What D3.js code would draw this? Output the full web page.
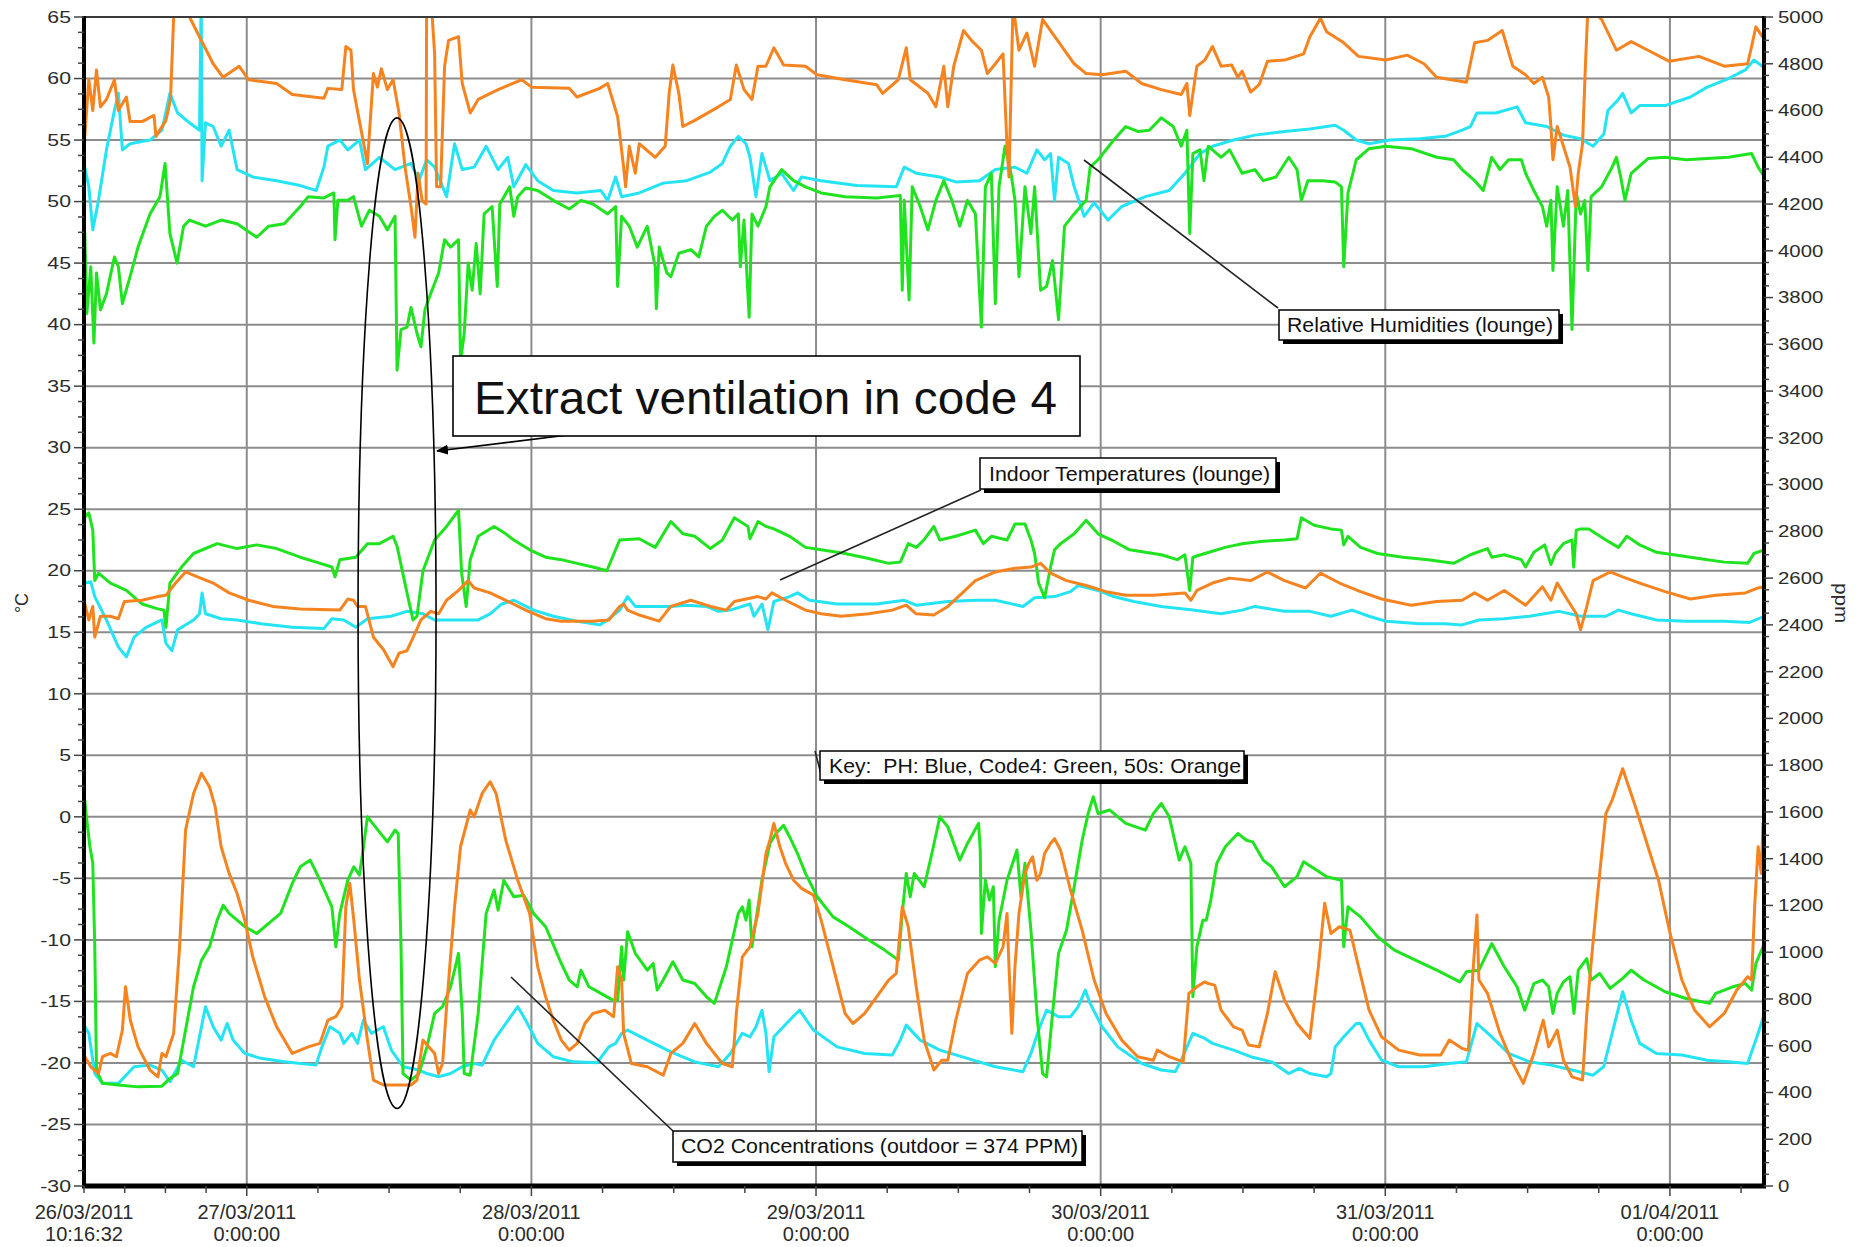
<!DOCTYPE html>
<html>
<head>
<meta charset="utf-8">
<script src="https://cdn.jsdelivr.net/npm/d3@7"></script>
<style>
  html, body { margin: 0; padding: 0; background: #fff; }
  svg { display: block; font-family: "Liberation Sans", Arial, Helvetica, sans-serif; }
  text { white-space: pre; }
</style>
</head>
<body>
<svg id="chart" width="1863" height="1247"></svg>
<script>
// ---------------------------------------------------------------------------
// Lounge monitoring, 26/03/2011 10:16:32 -> 01/04/2011 ~08:00
// Each point is [days since 26/03/2011 00:00, value].
// RH and temperature use the left axis, CO2 (ppm) uses the right axis.
// ---------------------------------------------------------------------------

const seriesNames = ["PH", "Code4", "50s"];
const seriesColors = ["#24e4f4", "#1fe31f", "#f5831f"];

// Relative humidity (%)
const rhPH = [[.431,52.8],[.445,51.2],[.459,47.7],[.479,50.1],[.507,54.2],[.535,57.4],[.549,58.8],[.563,54.2],[.590,54.7],[.660,55.0],[.702,55.8],[.730,58.8],[.757,57.2],[.799,56.4],[.834,55.8],[.840,67],[.843,51.7],[.855,56.4],[.882,56.1],[.910,54.5],[.938,55.8],[.966,52.6],[1.021,52.0],[1.105,51.7],[1.188,51.3],[1.244,50.9],[1.271,52.8],[1.285,54.5],[1.327,55.0],[1.355,54.2],[1.396,55.0],[1.417,52.6],[1.466,53.6],[1.521,52.6],[1.577,53.1],[1.605,51.7],[1.632,53.4],[1.660,52.8],[1.702,50.4],[1.730,54.7],[1.757,52.6],[1.799,52.8],[1.841,54.5],[1.883,52.6],[1.917,53.6],[1.938,51.2],[1.980,53.0],[2.022,51.7],[2.077,50.9],[2.160,50.7],[2.244,50.9],[2.268,50.1],[2.296,52.0],[2.317,50.4],[2.379,50.7],[2.463,51.5],[2.546,51.7],[2.629,52.4],[2.671,53.1],[2.699,54.5],[2.727,55.3],[2.754,54.7],[2.768,53.6],[2.789,50.4],[2.810,53.9],[2.838,51.7],[2.879,52.3],[2.921,50.9],[2.949,52.0],[3.018,51.7],[3.143,51.3],[3.282,51.2],[3.310,52.8],[3.352,52.3],[3.435,52.0],[3.491,51.6],[3.574,51.7],[3.630,52.6],[3.699,52.8],[3.741,52.3],[3.776,54.2],[3.803,53.4],[3.824,53.9],[3.838,50.1],[3.852,53.6],[3.887,53.1],[3.907,51.2],[3.942,48.8],[3.977,49.9],[4.026,48.5],[4.074,49.6],[4.157,50.4],[4.241,50.9],[4.296,52.3],[4.349,53.9],[4.393,54.5],[4.467,55.0],[4.542,55.4],[4.646,55.7],[4.735,55.9],[4.824,56.2],[4.854,55.8],[4.898,55.0],[4.943,54.7],[5.017,55.0],[5.121,55.1],[5.210,55.3],[5.270,55.8],[5.299,56.1],[5.322,57.2],[5.389,57.2],[5.463,57.7],[5.493,56.4],[5.567,56.1],[5.626,55.4],[5.686,55.1],[5.730,54.5],[5.768,55.5],[5.782,57.4],[5.819,58.3],[5.834,58.8],[5.864,57.2],[5.894,57.8],[5.983,57.8],[6.072,58.5],[6.131,59.3],[6.206,60.0],[6.265,60.7],[6.295,61.5],[6.325,61.0]];

const rhCode4 = [[.431,47.4],[.438,40.9],[.452,44.7],[.463,38.5],[.472,44.2],[.486,41.2],[.507,42.5],[.535,45.5],[.549,44.7],[.563,41.7],[.590,43.9],[.618,46.3],[.660,49.0],[.695,50.4],[.713,53.1],[.730,47.4],[.755,45.0],[.778,48.0],[.799,48.5],[.855,48.0],[.910,48.5],[.966,48.2],[1.035,47.1],[1.077,48.0],[1.132,48.2],[1.188,49.6],[1.216,50.4],[1.271,50.3],[1.306,50.7],[1.310,46.9],[1.320,50.1],[1.355,50.1],[1.375,50.4],[1.403,48.0],[1.431,49.3],[1.466,48.8],[1.494,47.7],[1.521,48.8],[1.528,36.3],[1.542,39.6],[1.563,39.8],[1.577,41.4],[1.598,39.3],[1.612,38.2],[1.626,41.2],[1.646,42.5],[1.674,44.2],[1.695,46.9],[1.716,46.3],[1.744,46.9],[1.751,37.0],[1.764,39.3],[1.778,45.0],[1.792,42.8],[1.806,46.6],[1.820,42.5],[1.834,49.0],[1.862,49.6],[1.880,43.1],[1.889,49.8],[1.924,51.2],[1.938,48.8],[1.952,50.4],[1.980,51.1],[2.022,50.9],[2.077,50.1],[2.133,49.4],[2.174,50.1],[2.216,49.8],[2.268,49.0],[2.296,49.6],[2.303,43.1],[2.317,48.8],[2.344,48.0],[2.372,46.3],[2.407,48.0],[2.435,44.7],[2.439,41.3],[2.449,46.3],[2.476,44.2],[2.490,43.9],[2.518,45.8],[2.560,46.1],[2.588,45.5],[2.615,48.0],[2.643,48.8],[2.671,49.3],[2.706,48.5],[2.727,49.0],[2.734,44.7],[2.747,48.5],[2.765,40.6],[2.775,49.0],[2.796,48.0],[2.824,49.6],[2.838,51.2],[2.879,52.6],[2.921,51.7],[2.963,51.2],[3.018,50.7],[3.102,50.4],[3.213,50.3],[3.296,50.5],[3.303,42.8],[3.310,50.1],[3.327,42.0],[3.338,51.2],[3.366,49.6],[3.393,47.7],[3.421,50.1],[3.449,51.7],[3.477,50.1],[3.505,48.0],[3.532,50.1],[3.560,49.0],[3.581,39.8],[3.595,51.2],[3.616,52.3],[3.630,41.7],[3.643,51.2],[3.664,54.5],[3.685,52.3],[3.699,50.1],[3.713,43.9],[3.734,51.2],[3.755,47.4],[3.768,51.2],[3.789,42.8],[3.810,43.1],[3.831,45.2],[3.852,40.4],[3.873,48.0],[3.907,49.0],[3.949,50.1],[3.963,52.8],[3.991,53.4],[4.046,55.0],[4.088,56.1],[4.130,55.7],[4.171,55.8],[4.213,56.8],[4.255,56.1],[4.283,54.5],[4.303,55.8],[4.313,47.4],[4.324,53.9],[4.349,54.2],[4.363,51.7],[4.378,54.5],[4.423,53.6],[4.453,54.2],[4.497,52.3],[4.542,52.6],[4.571,51.7],[4.616,52.0],[4.661,53.6],[4.690,52.6],[4.705,50.1],[4.728,51.7],[4.779,51.7],[4.824,51.6],[4.846,51.2],[4.854,44.7],[4.869,50.7],[4.898,53.4],[4.943,54.3],[5.002,54.5],[5.091,54.3],[5.181,53.6],[5.240,53.4],[5.270,52.6],[5.314,51.7],[5.344,50.9],[5.374,53.6],[5.403,52.6],[5.433,53.4],[5.478,53.4],[5.493,52.3],[5.522,50.9],[5.552,49.6],[5.567,48.0],[5.582,50.1],[5.589,44.4],[5.604,51.2],[5.626,48.0],[5.641,50.9],[5.656,39.6],[5.671,50.7],[5.686,49.0],[5.701,50.1],[5.712,44.4],[5.723,50.4],[5.760,51.2],[5.797,52.8],[5.812,53.6],[5.827,52.0],[5.842,50.1],[5.864,52.3],[5.923,53.5],[5.983,53.6],[6.057,53.4],[6.131,53.5],[6.206,53.6],[6.287,53.9],[6.310,52.8],[6.332,52.0]];

const rh50s = [[.431,55.3],[.445,59.9],[.459,57.4],[.472,60.7],[.486,57.7],[.507,58.3],[.535,59.9],[.549,57.4],[.577,58.5],[.590,56.5],[.632,56.5],[.674,57.0],[.681,55.3],[.716,56.6],[.732,58.3],[.743,64.9],[.753,67],[.780,67],[.799,65],[.827,63.7],[.882,61.2],[.917,60.1],[.973,61.0],[1.007,59.9],[1.105,59.6],[1.160,58.7],[1.271,58.4],[1.285,59.2],[1.334,59.1],[1.348,62.6],[1.366,62.3],[1.375,59.1],[1.424,53.1],[1.445,60.4],[1.459,59.3],[1.473,60.8],[1.494,59.1],[1.514,59.9],[1.535,57.2],[1.556,52.8],[1.577,49.6],[1.591,47.1],[1.602,52.3],[1.616,50.1],[1.630,49.8],[1.632,67],[1.646,67],[1.660,62.0],[1.667,51.2],[1.681,51.2],[1.695,61.0],[1.709,63.1],[1.744,63.4],[1.757,59.6],[1.785,57.2],[1.813,58.3],[1.883,59.1],[1.966,59.9],[2.001,59.3],[2.133,59.2],[2.160,58.5],[2.240,59.2],[2.268,59.6],[2.303,56.9],[2.324,52.8],[2.331,51.2],[2.344,54.5],[2.365,52.3],[2.379,54.7],[2.435,53.6],[2.470,54.5],[2.484,58.8],[2.497,61.1],[2.518,58.8],[2.532,56.1],[2.574,56.6],[2.657,57.7],[2.699,58.3],[2.720,61.1],[2.747,59.1],[2.775,58.3],[2.796,61.0],[2.824,61.0],[2.852,62.5],[2.886,61.1],[2.963,61.0],[3.004,60.3],[3.102,59.9],[3.213,59.5],[3.234,58.8],[3.289,59.9],[3.317,62.5],[3.331,59.9],[3.393,58.8],[3.421,57.7],[3.449,61.0],[3.463,57.7],[3.484,61.0],[3.518,63.9],[3.546,63.1],[3.581,62.3],[3.602,60.4],[3.630,61.2],[3.657,62.0],[3.671,54.5],[3.678,52.0],[3.692,66],[3.713,62.3],[3.741,63.7],[3.768,61.0],[3.796,64.8],[3.824,63.9],[3.907,61.2],[3.949,60.4],[4.005,60.3],[4.088,60.6],[4.144,59.6],[4.213,59.1],[4.283,58.7],[4.303,59.6],[4.313,57.0],[4.338,61.0],[4.366,61.5],[4.393,62.6],[4.423,61.0],[4.460,61.1],[4.482,60.1],[4.497,60.6],[4.527,58.9],[4.557,59.5],[4.586,61.4],[4.646,61.5],[4.713,62.0],[4.735,63.4],[4.772,64.9],[4.794,63.8],[4.854,62.9],[4.906,61.8],[5.002,61.5],[5.077,61.9],[5.136,61.2],[5.180,60.1],[5.285,59.7],[5.314,62.9],[5.359,63.1],[5.411,63.9],[5.448,61.0],[5.493,60.3],[5.522,59.6],[5.552,60.1],[5.574,58.5],[5.582,56.1],[5.589,53.4],[5.604,56.1],[5.626,54.5],[5.649,52.8],[5.668,49.6],[5.678,52.3],[5.693,54.7],[5.703,61.0],[5.712,65.8],[5.738,65.3],[5.760,64.8],[5.812,62.3],[5.864,63.0],[5.923,62.3],[5.998,61.4],[6.102,61.8],[6.191,61.0],[6.273,61.2],[6.287,62.6],[6.302,64.2],[6.325,63.4]];

// Indoor temperature (°C)
const tPH = [[.431,19.0],[.452,19.1],[.466,17.9],[.507,16.0],[.549,13.8],[.577,13.0],[.604,14.6],[.646,15.4],[.702,16.0],[.716,14.1],[.737,13.5],[.757,15.2],[.813,16.0],[.834,16.5],[.843,18.2],[.855,16.5],[.910,16.1],[.966,16.0],[1.049,15.7],[1.160,15.4],[1.271,15.3],[1.299,16.1],[1.341,16.0],[1.383,15.4],[1.424,16.1],[1.507,16.3],[1.563,16.7],[1.619,16.5],[1.660,16.0],[1.716,16.0],[1.813,16.0],[1.855,16.5],[1.896,17.3],[1.938,17.6],[2.008,16.8],[2.077,16.3],[2.160,15.9],[2.240,15.6],[2.268,16.0],[2.310,16.8],[2.338,17.9],[2.365,17.1],[2.421,17.1],[2.490,17.1],[2.546,17.2],[2.615,17.1],[2.657,16.7],[2.699,16.8],[2.768,17.3],[2.782,16.3],[2.810,17.3],[2.831,15.2],[2.852,17.5],[2.907,17.9],[2.935,18.2],[2.977,17.6],[3.074,17.3],[3.213,17.3],[3.310,17.6],[3.352,17.2],[3.463,17.5],[3.560,17.6],[3.630,17.6],[3.727,17.1],[3.768,17.8],[3.838,17.9],[3.894,18.3],[3.921,18.8],[3.991,18.4],[4.046,17.9],[4.116,17.5],[4.213,17.1],[4.324,16.8],[4.423,16.5],[4.497,16.8],[4.542,17.1],[4.646,16.7],[4.735,16.7],[4.809,16.3],[4.883,16.8],[4.943,16.3],[5.002,15.9],[5.121,15.7],[5.210,15.7],[5.270,15.6],[5.329,16.0],[5.418,16.1],[5.507,16.3],[5.611,16.7],[5.686,16.3],[5.775,16.3],[5.819,16.8],[5.864,16.5],[5.953,16.0],[6.057,15.9],[6.191,15.9],[6.280,15.8],[6.332,16.3]];

const tCode4 = [[.431,24.4],[.445,24.7],[.459,23.3],[.466,19.2],[.479,19.8],[.521,19.0],[.577,18.4],[.632,17.3],[.688,16.9],[.709,16.8],[.716,15.4],[.730,19.0],[.771,20.3],[.813,21.4],[.896,22.2],[.966,21.8],[1.035,22.1],[1.105,21.8],[1.188,21.1],[1.244,20.7],[1.299,20.3],[1.310,19.5],[1.327,20.9],[1.383,21.1],[1.424,22.2],[1.466,22.2],[1.514,22.8],[1.528,22.0],[1.563,18.2],[1.584,16.0],[1.598,16.3],[1.619,20.0],[1.660,22.5],[1.702,23.6],[1.744,24.9],[1.755,19.8],[1.771,17.1],[1.785,20.9],[1.813,22.8],[1.869,23.6],[1.910,23.0],[1.938,22.5],[1.994,21.7],[2.050,21.1],[2.105,20.9],[2.160,20.6],[2.216,20.3],[2.265,20.0],[2.310,22.5],[2.379,22.6],[2.435,21.9],[2.490,24.0],[2.532,23.0],[2.574,22.8],[2.629,21.8],[2.671,22.5],[2.713,24.3],[2.761,23.6],[2.768,22.6],[2.796,24.0],[2.824,23.6],[2.852,23.4],[2.907,22.8],[2.963,21.9],[3.018,21.7],[3.102,21.4],[3.185,21.0],[3.255,20.6],[3.296,20.7],[3.324,22.2],[3.352,21.9],[3.379,22.5],[3.414,23.6],[3.435,22.5],[3.491,22.8],[3.560,23.3],[3.588,22.2],[3.616,22.8],[3.671,22.5],[3.699,23.8],[3.734,23.8],[3.755,22.5],[3.768,21.4],[3.782,19.0],[3.803,17.8],[3.824,20.3],[3.838,21.7],[3.859,22.2],[3.907,23.0],[3.949,24.1],[3.991,23.0],[4.046,22.4],[4.102,21.7],[4.157,21.5],[4.213,21.3],[4.269,20.9],[4.296,21.3],[4.313,18.4],[4.324,21.1],[4.366,21.4],[4.438,21.9],[4.497,22.2],[4.571,22.4],[4.646,22.5],[4.690,22.6],[4.705,24.3],[4.750,23.7],[4.809,23.4],[4.846,23.3],[4.854,22.1],[4.869,22.8],[4.913,21.9],[4.973,21.4],[5.062,21.1],[5.151,20.9],[5.240,20.6],[5.299,21.3],[5.359,21.8],[5.374,21.1],[5.418,21.3],[5.478,20.9],[5.493,20.3],[5.522,21.5],[5.560,22.1],[5.582,20.5],[5.597,21.4],[5.626,22.2],[5.656,22.5],[5.662,20.3],[5.671,23.3],[5.686,23.4],[5.715,23.4],[5.775,22.5],[5.819,21.9],[5.849,22.8],[5.894,22.1],[5.953,21.5],[6.013,21.3],[6.102,21.0],[6.191,20.7],[6.273,20.6],[6.295,21.4],[6.332,21.7]];

const t50s = [[.431,17.3],[.445,16.0],[.459,17.1],[.466,14.6],[.486,16.3],[.521,16.3],[.549,16.1],[.570,17.5],[.632,17.6],[.688,17.9],[.716,18.0],[.750,19.0],[.785,19.9],[.827,19.5],[.882,19.0],[.938,18.2],[1.007,17.6],[1.091,17.1],[1.188,16.9],[1.327,16.8],[1.355,17.7],[1.375,17.6],[1.389,17.1],[1.417,17.1],[1.445,14.6],[1.480,13.6],[1.514,12.2],[1.535,13.3],[1.563,13.5],[1.591,14.9],[1.612,16.0],[1.646,16.7],[1.674,16.5],[1.702,17.6],[1.744,18.4],[1.778,19.2],[1.799,18.6],[1.855,18.2],[1.910,17.6],[1.980,16.8],[2.050,16.1],[2.105,15.9],[2.216,15.9],[2.272,16.0],[2.310,17.1],[2.324,17.3],[2.338,16.8],[2.379,16.4],[2.449,15.9],[2.490,17.1],[2.560,17.6],[2.629,17.1],[2.685,16.8],[2.713,17.5],[2.796,17.9],[2.824,17.7],[2.845,18.2],[2.893,17.6],[2.963,16.8],[3.018,16.5],[3.088,16.3],[3.185,16.5],[3.268,16.8],[3.317,17.2],[3.352,16.5],[3.414,16.4],[3.463,17.1],[3.505,18.0],[3.560,19.2],[3.630,19.9],[3.699,20.2],[3.755,20.3],[3.789,20.6],[3.824,19.8],[3.880,19.2],[3.949,18.8],[4.019,18.3],[4.088,18.0],[4.185,18.0],[4.296,18.2],[4.317,17.6],[4.338,18.4],[4.393,19.0],[4.453,19.4],[4.527,19.2],[4.586,19.9],[4.646,19.2],[4.720,18.6],[4.772,19.8],[4.839,19.0],[4.913,18.3],[4.987,17.7],[5.091,17.2],[5.181,17.5],[5.270,17.6],[5.314,18.2],[5.359,17.6],[5.418,18.4],[5.493,17.2],[5.552,18.7],[5.582,17.6],[5.604,19.0],[5.641,17.6],[5.671,16.5],[5.686,15.2],[5.708,17.1],[5.730,19.2],[5.790,19.9],[5.834,19.5],[5.894,19.0],[5.983,18.3],[6.072,17.7],[6.161,18.0],[6.265,18.2],[6.310,18.6],[6.332,18.7]];

// CO2 concentration (ppm)
const co2PH = [[.431,681],[.445,653],[.466,481],[.493,439],[.549,439],[.604,510],[.660,517],[.702,496],[.730,446],[.771,538],[.813,510],[.855,767],[.882,681],[.910,624],[.931,695],[.952,624],[.993,567],[1.049,546],[1.132,531],[1.243,517],[1.264,595],[1.292,681],[1.327,653],[1.341,610],[1.369,653],[1.389,610],[1.410,709],[1.438,653],[1.480,681],[1.508,581],[1.549,510],[1.605,496],[1.633,481],[1.674,467],[1.716,481],[1.757,510],[1.799,524],[1.827,517],[1.869,624],[1.910,695],[1.952,767],[1.980,709],[2.022,610],[2.077,553],[2.147,531],[2.230,527],[2.272,595],[2.296,610],[2.317,653],[2.338,667],[2.407,624],[2.490,574],[2.574,531],[2.657,510],[2.699,567],[2.741,653],[2.768,638],[2.789,681],[2.810,752],[2.824,653],[2.835,489],[2.852,638],[2.907,709],[2.942,752],[2.991,667],[3.074,595],[3.171,567],[3.268,560],[3.296,624],[3.317,688],[3.366,624],[3.435,581],[3.532,546],[3.630,510],[3.727,489],[3.755,567],[3.782,667],[3.810,752],[3.852,724],[3.894,724],[3.921,767],[3.946,838],[3.963,781],[4.005,681],[4.060,595],[4.144,524],[4.213,496],[4.262,489],[4.283,538],[4.324,653],[4.366,631],[4.393,610],[4.467,581],[4.527,553],[4.601,531],[4.660,481],[4.698,503],[4.735,481],[4.794,467],[4.809,481],[4.824,595],[4.854,638],[4.898,695],[4.913,695],[4.943,624],[4.987,538],[5.047,510],[5.136,510],[5.225,524],[5.285,531],[5.322,695],[5.374,638],[5.433,567],[5.507,531],[5.582,517],[5.656,496],[5.730,474],[5.767,510],[5.797,653],[5.834,831],[5.864,709],[5.894,610],[5.953,567],[6.042,560],[6.131,538],[6.206,531],[6.273,524],[6.310,653],[6.332,738]];

const co2Code4 = [[.431,1650],[.438,1565],[.449,1451],[.459,1380],[.466,1023],[.472,496],[.493,439],[.549,432],[.618,424],[.702,427],[.730,460],[.757,481],[.785,667],[.813,852],[.841,966],[.869,1023],[.896,1137],[.917,1201],[.938,1166],[.993,1109],[1.035,1080],[1.077,1123],[1.119,1166],[1.160,1294],[1.188,1365],[1.223,1394],[1.257,1308],[1.299,1194],[1.313,1023],[1.327,1166],[1.355,1308],[1.376,1365],[1.396,1330],[1.410,1451],[1.424,1579],[1.452,1536],[1.494,1472],[1.521,1522],[1.532,1508],[1.542,1023],[1.549,481],[1.577,453],[1.605,481],[1.633,595],[1.660,738],[1.688,767],[1.716,852],[1.744,995],[1.757,738],[1.764,481],[1.785,474],[1.813,738],[1.841,1166],[1.869,1266],[1.883,1180],[1.903,1308],[1.938,1237],[1.973,1244],[2.008,1166],[2.050,1109],[2.105,952],[2.133,881],[2.161,852],[2.174,923],[2.202,852],[2.244,824],[2.286,795],[2.303,795],[2.317,1023],[2.324,881],[2.338,1087],[2.365,995],[2.407,923],[2.428,952],[2.442,838],[2.463,881],[2.497,959],[2.532,881],[2.574,866],[2.615,809],[2.643,781],[2.685,938],[2.727,1166],[2.741,1194],[2.754,1137],[2.765,1223],[2.775,1023],[2.789,1137],[2.810,1308],[2.838,1465],[2.859,1508],[2.886,1543],[2.907,1494],[2.935,1422],[2.963,1337],[3.004,1237],[3.060,1151],[3.116,1109],[3.185,1052],[3.241,1009],[3.289,966],[3.303,1166],[3.317,1337],[3.331,1237],[3.345,1337],[3.380,1280],[3.407,1422],[3.435,1579],[3.463,1536],[3.505,1394],[3.532,1465],[3.571,1551],[3.577,1437],[3.581,1080],[3.595,1308],[3.609,1223],[3.623,1280],[3.630,938],[3.643,1137],[3.671,1308],[3.706,1437],[3.720,1237],[3.734,1380],[3.755,1094],[3.776,738],[3.796,481],[3.810,467],[3.831,738],[3.852,995],[3.880,1094],[3.907,1280],[3.935,1479],[3.956,1593],[3.974,1665],[3.991,1593],[4.032,1608],[4.088,1551],[4.157,1522],[4.185,1593],[4.213,1636],[4.241,1579],[4.276,1394],[4.296,1451],[4.317,1380],[4.324,809],[4.338,1023],[4.359,1137],[4.371,1137],[4.387,1223],[4.408,1380],[4.438,1451],[4.482,1508],[4.512,1479],[4.534,1472],[4.571,1394],[4.601,1365],[4.646,1280],[4.690,1323],[4.713,1387],[4.750,1358],[4.794,1323],[4.846,1308],[4.854,1023],[4.869,1194],[4.913,1151],[4.973,1066],[5.032,1009],[5.106,966],[5.181,923],[5.262,873],[5.285,916],[5.329,923],[5.374,1037],[5.418,938],[5.463,852],[5.490,752],[5.522,866],[5.552,881],[5.574,852],[5.589,738],[5.604,824],[5.626,873],[5.649,895],[5.663,738],[5.678,923],[5.708,973],[5.723,881],[5.753,909],[5.790,845],[5.834,888],[5.864,923],[5.909,881],[5.983,831],[6.057,802],[6.139,781],[6.161,824],[6.221,852],[6.265,866],[6.287,838],[6.302,952],[6.332,1037]];

const co250s = [[.431,553],[.452,510],[.479,481],[.493,553],[.521,567],[.542,553],[.563,667],[.574,852],[.591,709],[.618,595],[.660,496],[.688,467],[.702,567],[.716,553],[.743,652],[.764,1023],[.785,1522],[.813,1679],[.841,1765],[.869,1707],[.889,1622],[.910,1451],[.938,1337],[.966,1251],[.993,1137],[1.021,980],[1.063,809],[1.105,681],[1.160,567],[1.216,595],[1.257,610],[1.285,709],[1.313,724],[1.334,767],[1.348,1194],[1.362,1294],[1.376,1137],[1.396,881],[1.424,624],[1.445,453],[1.480,432],[1.521,432],[1.577,432],[1.598,453],[1.619,624],[1.640,595],[1.660,567],[1.674,481],[1.688,524],[1.702,767],[1.730,1194],[1.751,1451],[1.785,1608],[1.799,1579],[1.827,1679],[1.855,1729],[1.876,1679],[1.910,1479],[1.952,1308],[1.994,1166],[2.022,938],[2.050,809],[2.077,709],[2.105,624],[2.133,581],[2.161,610],[2.188,695],[2.216,738],[2.258,752],[2.289,724],[2.303,938],[2.317,881],[2.324,653],[2.351,524],[2.407,510],[2.463,474],[2.490,567],[2.532,610],[2.574,695],[2.615,610],[2.671,524],[2.706,510],[2.720,738],[2.741,980],[2.768,1023],[2.796,1166],[2.824,1422],[2.838,1479],[2.852,1551],[2.873,1451],[2.893,1380],[2.921,1308],[2.949,1273],[2.991,1244],[3.018,1137],[3.060,938],[3.102,738],[3.130,695],[3.171,738],[3.213,809],[3.255,881],[3.282,909],[3.303,1194],[3.324,1109],[3.352,852],[3.380,624],[3.414,496],[3.442,538],[3.463,538],[3.491,709],[3.532,909],[3.574,966],[3.602,980],[3.630,952],[3.657,1023],[3.671,1166],[3.678,938],[3.688,653],[3.699,938],[3.713,1166],[3.734,1337],[3.748,1380],[3.761,1408],[3.776,1308],[3.789,1337],[3.803,1422],[3.824,1465],[3.838,1486],[3.859,1437],[3.894,1266],[3.935,1094],[3.977,881],[4.019,738],[4.074,624],[4.130,553],[4.185,538],[4.199,581],[4.241,553],[4.290,531],[4.310,824],[4.338,852],[4.366,873],[4.378,866],[4.401,859],[4.423,752],[4.467,681],[4.497,667],[4.519,603],[4.557,595],[4.586,738],[4.613,916],[4.646,795],[4.690,695],[4.735,631],[4.765,938],[4.787,1209],[4.809,1080],[4.839,1109],[4.876,1094],[4.906,938],[4.943,752],[4.987,638],[5.047,581],[5.121,560],[5.195,560],[5.225,624],[5.270,588],[5.292,581],[5.307,895],[5.322,1159],[5.329,881],[5.359,824],[5.403,653],[5.448,524],[5.485,439],[5.522,567],[5.555,709],[5.574,595],[5.604,667],[5.626,538],[5.656,467],[5.693,453],[5.708,738],[5.723,952],[5.745,1237],[5.775,1593],[5.797,1650],[5.834,1785],[5.879,1622],[5.923,1451],[5.960,1308],[5.998,1094],[6.042,881],[6.087,752],[6.139,681],[6.191,738],[6.235,838],[6.273,895],[6.287,881],[6.298,1202],[6.310,1451],[6.321,1337],[6.327,1551],[6.332,1511]];

// Axis ticks
const leftTicks = [-30,-25,-20,-15,-10,-5,0,5,10,15,20,25,30,35,40,45,50,55,60,65];
const rightTicks = [0,200,400,600,800,1000,1200,1400,1600,1800,2000,2200,2400,2600,2800,3000,3200,3400,3600,3800,4000,4200,4400,4600,4800,5000];
const dayTicks = [1,2,3,4,5,6];   // 27/03 ... 01/04 at 0:00:00

// ---------------------------------------------------------------------------
const W = 1863, H = 1247;
const plot = { left: 84, right: 1764, top: 17, bottom: 1186 };
const T0 = Date.UTC(2011, 2, 26);
const toDate = d => new Date(T0 + d * 864e5);
const tStart = new Date(Date.UTC(2011, 2, 26, 10, 16, 32));
const tEnd = new Date(Date.UTC(2011, 3, 1, 7, 56, 0));

const x = d3.scaleUtc().domain([tStart, tEnd]).range([plot.left, plot.right]);
const yL = d3.scaleLinear().domain([-30, 65]).range([plot.bottom, plot.top]);
const yR = d3.scaleLinear().domain([0, 5000]).range([plot.bottom, plot.top]);

const svg = d3.select("#chart");
svg.append("rect").attr("width", W).attr("height", H).attr("fill", "#fff");

svg.append("defs").append("clipPath").attr("id", "plotClip")
  .append("rect").attr("x", plot.left).attr("y", plot.top)
  .attr("width", plot.right - plot.left).attr("height", plot.bottom - plot.top);

// Grid
const grid = svg.append("g").attr("stroke", "#8c8c8c").attr("stroke-width", 2);
grid.selectAll("line.h").data(leftTicks.filter(v => v > -30 && v < 65)).join("line")
  .attr("x1", plot.left).attr("x2", plot.right)
  .attr("y1", d => yL(d)).attr("y2", d => yL(d));
grid.selectAll("line.v").data(dayTicks).join("line")
  .attr("y1", plot.top).attr("y2", plot.bottom)
  .attr("x1", d => x(toDate(d))).attr("x2", d => x(toDate(d)));

// Series
const lineL = d3.line().x(p => x(toDate(p[0]))).y(p => yL(p[1]));
const lineR = d3.line().x(p => x(toDate(p[0]))).y(p => yR(p[1]));
const groups = [
  { data: [rhPH, rhCode4, rh50s], line: lineL },
  { data: [tPH, tCode4, t50s], line: lineL },
  { data: [co2PH, co2Code4, co250s], line: lineR }
];
const lines = svg.append("g").attr("clip-path", "url(#plotClip)");
[0, 1, 2].forEach(si => {
  groups.forEach(g => {
    lines.append("path")
      .attr("d", g.line(g.data[si]))
      .attr("fill", "none")
      .attr("stroke", seriesColors[si])
      .attr("stroke-width", 3)
      .attr("stroke-linejoin", "round")
      .attr("stroke-linecap", "round")
      .attr("class", "series-" + seriesNames[si]);
  });
});

// Frame
svg.append("line").attr("x1", plot.left).attr("x2", plot.right).attr("y1", plot.top).attr("y2", plot.top)
  .attr("stroke", "#3a3a3a").attr("stroke-width", 2);
svg.append("line").attr("x1", plot.left).attr("x2", plot.left).attr("y1", plot.top - 1).attr("y2", plot.bottom + 2)
  .attr("stroke", "#000").attr("stroke-width", 4);
svg.append("line").attr("x1", plot.right).attr("x2", plot.right).attr("y1", plot.top - 1).attr("y2", plot.bottom + 2)
  .attr("stroke", "#000").attr("stroke-width", 4);
svg.append("line").attr("x1", plot.left - 2).attr("x2", plot.right + 2).attr("y1", plot.bottom).attr("y2", plot.bottom)
  .attr("stroke", "#000").attr("stroke-width", 5);

// Tick marks
const ticks = svg.append("g").attr("stroke", "#444").attr("stroke-width", 1.5);
const leftMinor = d3.range(-30, 65.01, 1.25);
ticks.selectAll("line.lm").data(leftMinor).join("line")
  .attr("x1", d => plot.left - (d % 5 === 0 ? 10 : 6)).attr("x2", plot.left)
  .attr("y1", d => yL(d)).attr("y2", d => yL(d));
const rightMinor = d3.range(0, 5000.1, 50);
ticks.selectAll("line.rm").data(rightMinor).join("line")
  .attr("x1", plot.right).attr("x2", d => plot.right + (d % 200 === 0 ? 9 : 5))
  .attr("y1", d => yR(d)).attr("y2", d => yR(d));
const firstDay = toDate(1);
const xMinor = [0, 1, 2, 3].map(k => new Date(+tStart + k * (firstDay - tStart) / 4))
  .concat(d3.utcHour.every(6).range(firstDay, tEnd));
ticks.selectAll("line.xm").data(xMinor).join("line")
  .attr("x1", d => x(d)).attr("x2", d => x(d))
  .attr("y1", plot.bottom).attr("y2", d => plot.bottom + (d.getUTCHours() === 0 && d.getUTCMinutes() === 0 ? 10 : 7));

// Tick labels (glyphs are drawn slightly wide)
function label(sel, px, py, txt, anchor, size, sx) {
  sel.append("text")
    .attr("transform", `translate(${px},${py}) scale(${sx},1)`)
    .attr("text-anchor", anchor)
    .attr("dominant-baseline", "central")
    .attr("font-size", size)
    .attr("fill", "#2b2b2b")
    .text(txt);
}
const lbl = svg.append("g");
leftTicks.forEach(v => label(lbl, 71, yL(v), String(v), "end", 17, 1.25));
rightTicks.forEach(v => label(lbl, 1778, yR(v), String(v), "start", 17, 1.2));

const fmtDate = d3.utcFormat("%d/%m/%Y");
const fmtTime = d3.utcFormat("%-H:%M:%S");
const xLabelDates = [tStart].concat(dayTicks.map(toDate));
xLabelDates.forEach(d => {
  lbl.append("text").attr("x", x(d)).attr("y", 1219).attr("text-anchor", "middle")
    .attr("font-size", 20).attr("fill", "#2b2b2b").text(fmtDate(d));
  lbl.append("text").attr("x", x(d)).attr("y", 1241).attr("text-anchor", "middle")
    .attr("font-size", 20).attr("fill", "#2b2b2b").text(fmtTime(d));
});

// Axis titles
lbl.append("text").attr("transform", "translate(28,603) rotate(-90)")
  .attr("text-anchor", "middle").attr("font-size", 18).attr("fill", "#2b2b2b").text("°C");
lbl.append("text").attr("transform", "translate(1835,603) rotate(90) scale(1.15,1)")
  .attr("text-anchor", "middle").attr("font-size", 18).attr("fill", "#2b2b2b").text("ppm");

// ---------------------------------------------------------------------------
// Annotations
const ann = svg.append("g");

// Ellipse around the code-4 extract-ventilation event
const eTop = 56.8, eBottom = -23.7;
ann.append("ellipse")
  .attr("cx", x(toDate(1.528)))
  .attr("cy", (yL(eTop) + yL(eBottom)) / 2)
  .attr("rx", 39)
  .attr("ry", (yL(eBottom) - yL(eTop)) / 2)
  .attr("fill", "none").attr("stroke", "#000").attr("stroke-width", 1.6);

svg.select("defs").append("marker")
  .attr("id", "arrowHead").attr("viewBox", "0 0 12 10").attr("refX", 11).attr("refY", 5)
  .attr("markerWidth", 12).attr("markerHeight", 10).attr("markerUnits", "userSpaceOnUse")
  .attr("orient", "auto")
  .append("path").attr("d", "M0,0 L12,5 L0,10 Z").attr("fill", "#000");

function calloutBox(bx, by, bw, bh, txt, tx, ty, tlen, size, shadow) {
  if (shadow) {
    ann.append("rect").attr("x", bx + 4).attr("y", by + 4).attr("width", bw).attr("height", bh).attr("fill", "#000");
  }
  ann.append("rect").attr("x", bx).attr("y", by).attr("width", bw).attr("height", bh)
    .attr("fill", "#fff").attr("stroke", "#000").attr("stroke-width", shadow ? 1.5 : 1.6);
  ann.append("text").attr("x", tx).attr("y", ty).attr("font-size", size).attr("fill", "#111")
    .attr("xml:space", "preserve")
    .attr("textLength", tlen).attr("lengthAdjust", "spacingAndGlyphs").text(txt);
}

// Leader lines
const leader = (x1, y1, x2, y2) => ann.append("line").attr("x1", x1).attr("y1", y1).attr("x2", x2).attr("y2", y2)
  .attr("stroke", "#222").attr("stroke-width", 1.6);
leader(1084, 160, 1278, 308);   // relative humidities
leader(780, 580, 981, 490);     // indoor temperatures
leader(815, 751, 821, 774);     // key
leader(511, 977, 673, 1131);    // CO2

ann.append("line").attr("x1", 568).attr("y1", 435).attr("x2", 437).attr("y2", 451)
  .attr("stroke", "#000").attr("stroke-width", 1.6).attr("marker-end", "url(#arrowHead)");

calloutBox(453, 356, 627, 80, "Extract ventilation in code 4", 474, 414, 583, 46, false);
calloutBox(1279, 310, 280, 30, "Relative Humidities (lounge)", 1287, 332, 266, 20, true);
calloutBox(980, 458, 296, 31, "Indoor Temperatures (lounge)", 989, 481, 281, 20, true);
calloutBox(820, 751, 424, 29, "Key:  PH: Blue, Code4: Green, 50s: Orange", 829, 773, 412, 20, true);
calloutBox(673, 1131, 409, 31, "CO2 Concentrations (outdoor = 374 PPM)", 681, 1153, 397, 20, true);
</script>
</body>
</html>
